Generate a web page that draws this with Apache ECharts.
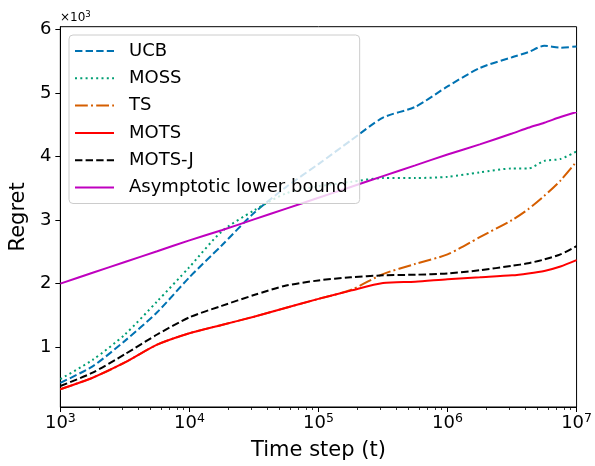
<!DOCTYPE html>
<html>
<head>
<meta charset="utf-8">
<script src="https://cdn.jsdelivr.net/npm/echarts@6/dist/echarts.min.js"></script>
<style>
html,body{margin:0;padding:0;background:#fff;}
#c{width:595px;height:466px;}
</style>
</head>
<body>
<div id="c"></div>
<script>
// Time steps (t) on a log scale
const timeSteps = [1000, 1778, 3162, 5623, 10000, 17783, 31623, 56234, 100000, 177828, 316228, 562341, 1000000, 1778279, 3162278, 4216965, 5623413, 7498942, 10000000];
// Regret values in units of 10^3
const ucb   = [0.44, 0.70, 1.10, 1.55, 2.10, 2.60, 3.11, 3.52, 3.88, 4.25, 4.61, 4.78, 5.10, 5.39, 5.56, 5.64, 5.74, 5.71, 5.73];
const moss  = [0.50, 0.80, 1.20, 1.72, 2.26, 2.82, 3.15, 3.42, 3.53, 3.60, 3.66, 3.66, 3.68, 3.75, 3.81, 3.81, 3.93, 3.96, 4.08];
const ts    = [0.34, 0.52, 0.76, 1.04, 1.22, 1.35, 1.48, 1.62, 1.76, 1.90, 2.15, 2.31, 2.46, 2.73, 3.00, 3.17, 3.38, 3.62, 3.92];
const mots  = [0.34, 0.52, 0.76, 1.04, 1.22, 1.35, 1.48, 1.62, 1.76, 1.89, 2.01, 2.03, 2.07, 2.10, 2.13, 2.16, 2.20, 2.27, 2.37];
const motsJ = [0.39, 0.60, 0.89, 1.20, 1.47, 1.65, 1.82, 1.97, 2.05, 2.10, 2.13, 2.14, 2.16, 2.21, 2.28, 2.32, 2.38, 2.46, 2.59];
const lowerBound = [2.00, 2.17, 2.34, 2.51, 2.68, 2.84, 3.01, 3.18, 3.35, 3.52, 3.69, 3.86, 4.03, 4.19, 4.36, 4.45, 4.53, 4.62, 4.70];

const xMajorTicks = [1000, 10000, 100000, 1000000, 10000000];
const xMinorTicks = [2000,3000,4000,5000,6000,7000,8000,9000,
  20000,30000,40000,50000,60000,70000,80000,90000,
  200000,300000,400000,500000,600000,700000,800000,900000,
  2000000,3000000,4000000,5000000,6000000,7000000,8000000,9000000];
const yTicks = [1, 2, 3, 4, 5, 6];

const FONT = 'DejaVu Sans';
const pair = arr => timeSteps.map((t, i) => [t, arr[i]]);

function mk(name, arr, color, type) {
  return {
    name: name, type: 'line', data: pair(arr), symbol: 'none',
    smooth: 0.25,
    lineStyle: { color: color, width: 2, type: type, cap: 'butt' },
    itemStyle: { color: color },
    emphasis: { disabled: true }, animation: false
  };
}

const chart = echarts.init(document.getElementById('c'), null, { renderer: 'canvas' });
chart.setOption({
  animation: false,
  textStyle: { fontFamily: FONT },
  grid: { left: 59.3, right: 18.3, top: 26.7, bottom: 54.9, show: true, borderColor: '#000', borderWidth: 1, backgroundColor: 'transparent' },
  legend: {
    orient: 'vertical', left: 69, top: 35,
    itemWidth: 39, itemHeight: 14, itemGap: 7.3,
    padding: [6, 12, 6, 5],
    backgroundColor: 'rgba(255,255,255,0.8)', borderColor: '#cccccc', borderWidth: 1, borderRadius: 4,
    itemStyle: { opacity: 0 },
    textStyle: { fontFamily: FONT, fontSize: 18, color: '#000', lineHeight: 20, padding: [0, 0, 0, 10] },
    data: ['UCB', 'MOSS', 'TS', 'MOTS', 'MOTS-J', 'Asymptotic lower bound']
  },
  graphic: [{
    type: 'text', left: 60, top: 10,
    style: {
      text: '{a|×10}{b|3}',
      rich: {
        a: { fontFamily: FONT, fontSize: 12, fill: '#000', lineHeight: 14, verticalAlign: 'bottom' },
        b: { fontFamily: FONT, fontSize: 8.5, fill: '#000', lineHeight: 14, verticalAlign: 'top' }
      }
    }
  }],
  xAxis: [{
    type: 'log', logBase: 10, min: 1000, max: 10000000,
    name: 'Time step (t)', nameLocation: 'middle', nameGap: 33,
    nameTextStyle: { fontFamily: FONT, fontSize: 21, color: '#000' },
    axisLine: { show: true, lineStyle: { color: '#000', width: 1 } },
    axisTick: { show: true, length: 5, lineStyle: { color: '#000', width: 1 }, customValues: xMajorTicks },
    minorTick: { show: false },
    splitLine: { show: false },
    axisLabel: {
      customValues: xMajorTicks, margin: 5, color: '#000',
      formatter: v => '{b|10}{s|' + Math.round(Math.log10(v)) + '}',
      rich: {
        b: { fontFamily: FONT, fontSize: 18, color: '#000', lineHeight: 22 },
        s: { fontFamily: FONT, fontSize: 12.5, color: '#000', lineHeight: 14, verticalAlign: 'top' }
      }
    }
  }, {
    type: 'log', logBase: 10, min: 1000, max: 10000000, position: 'bottom',
    axisLine: { show: false },
    axisTick: { show: true, length: 3, lineStyle: { color: '#000', width: 0.8 }, customValues: xMinorTicks },
    axisLabel: { show: false },
    splitLine: { show: false }
  }],
  yAxis: {
    type: 'value', min: 0.06, max: 6.04,
    name: 'Regret', nameLocation: 'middle', nameGap: 22, nameRotate: 90,
    nameTextStyle: { fontFamily: FONT, fontSize: 21, color: '#000' },
    axisLine: { show: true, lineStyle: { color: '#000', width: 1 } },
    axisTick: { show: true, length: 5, lineStyle: { color: '#000', width: 1 }, customValues: yTicks },
    splitLine: { show: false },
    axisLabel: { customValues: yTicks, margin: 9, fontFamily: FONT, fontSize: 18, color: '#000', formatter: v => String(Math.round(v)) }
  },
  series: [
    mk('UCB', ucb, '#0072B2', [7.4, 3.2]),
    mk('MOSS', moss, '#009E73', [2, 3.3]),
    mk('TS', ts, '#D55E00', [12.8, 3.2, 2, 3.2]),
    mk('MOTS', mots, '#FF0000', 'solid'),
    mk('MOTS-J', motsJ, '#000000', [7.4, 3.2]),
    mk('Asymptotic lower bound', lowerBound, '#BF00BF', 'solid')
  ]
});
</script>
</body>
</html>
